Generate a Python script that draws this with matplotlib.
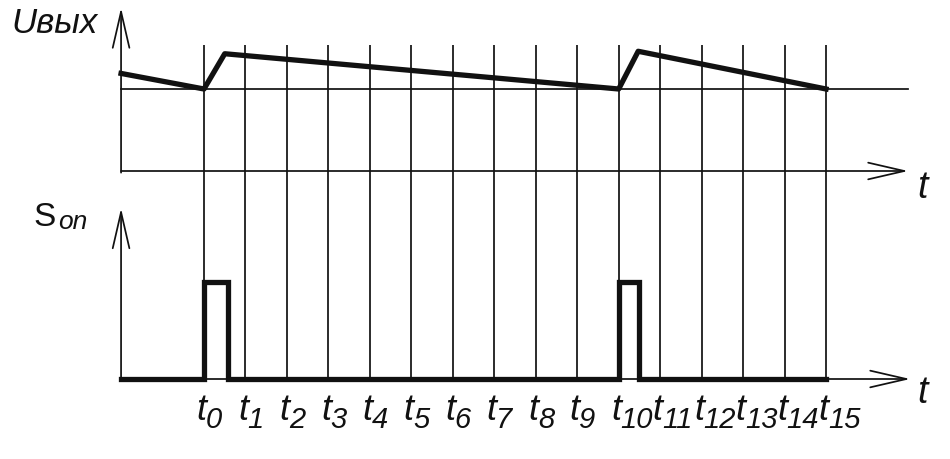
import matplotlib
matplotlib.use("Agg")
import matplotlib.pyplot as plt

plt.rcParams['font.family'] = ['Liberation Sans', 'DejaVu Sans']
plt.rcParams['mathtext.fontset'] = 'custom'
plt.rcParams['mathtext.rm'] = 'Liberation Sans'
plt.rcParams['mathtext.it'] = 'Liberation Sans:italic'
plt.rcParams['mathtext.sf'] = 'Liberation Sans'

# ---------------- data ----------------
t_marks = list(range(16))                       # t0 .. t15
t_subscripts = [str(k) for k in t_marks]
t_axis_start = -2.0                              # time where the axes start
t_axis_end = 16.98                               # arrow tip of time axes

# output voltage (relative units, reference level = 1)
u_time = [-2.0, 0.0, 0.5, 10.0, 10.47, 15.0]
u_vals = [1.19, 1.0, 1.43, 1.0, 1.46, 1.0]
u_ref = 1.0
u_arrow_top = 1.99
u_grid_top = 1.54

# switch-on signal
s_time = [-2.0, 0.0, 0.0, 0.58, 0.58, 10.0, 10.0, 10.48, 10.48, 15.0]
s_vals = [0, 0, 1, 1, 0, 0, 1, 1, 0, 0]
s_arrow_top = 1.76

# ---------------- layout ----------------
W, H = 950, 459
PX_T = 41.47          # pixels per time unit
X0 = 204              # pixel x of t0
fig = plt.figure(figsize=(W / 100, H / 100), dpi=100)
fig.patch.set_facecolor('white')

split = 200  # pixel row separating the two panels
ax_u = fig.add_axes([0, 1 - split / H, 1, split / H])
ax_s = fig.add_axes([0, 0, 1, 1 - split / H])
xlim = (-X0 / PX_T, (W - X0) / PX_T)

U0, UPX = 171, 82
ax_u.set_xlim(*xlim)
ax_u.set_ylim((U0 - split) / UPX, U0 / UPX)
S0, SPX = 379, 97
ax_s.set_xlim(*xlim)
ax_s.set_ylim((S0 - H) / SPX, (S0 - split) / SPX)

for ax in (ax_u, ax_s):
    ax.set_axis_off()

thin = 1.25
thick = 3.8
col = '#111111'
narrow = ['Liberation Sans Narrow', 'Liberation Sans', 'DejaVu Sans']

arrow_style = '->,head_length=2.6,head_width=0.6'

def axis_arrow(ax, start, tip):
    ax.annotate('', xy=tip, xytext=start,
                arrowprops=dict(arrowstyle=arrow_style, lw=thin, color=col,
                                shrinkA=0, shrinkB=0))

# grid of time marks
ax_u.vlines(t_marks, (U0 - split - 10) / UPX, u_grid_top, color=col, lw=thin)
ax_s.vlines(t_marks, 0, (S0 - split + 10) / SPX, color=col, lw=thin)

# top axes
axis_arrow(ax_u, (t_axis_start, -0.02), (t_axis_start, u_arrow_top))
axis_arrow(ax_u, (t_axis_start, 0), (t_axis_end, 0))
ax_u.plot([t_axis_start, t_axis_end], [u_ref, u_ref], color=col, lw=thin)
ax_u.plot(u_time, u_vals, color=col, lw=thick, solid_joinstyle='round')

# bottom axes
axis_arrow(ax_s, (t_axis_start, 0), (t_axis_start, s_arrow_top))
axis_arrow(ax_s, (t_axis_start, 0), (t_axis_end + 0.05, 0))
ax_s.plot(s_time, s_vals, color=col, lw=thick, solid_joinstyle='miter')

# texts
ax_u.text((11 - X0) / PX_T, (U0 - 33) / UPX, 'Uвых', fontsize=25,
          fontstyle='italic', ha='left', va='baseline', color=col,
          family=narrow[1:])
ax_u.text((922 - X0) / PX_T, (U0 - 198) / UPX, 't', fontsize=27,
          fontstyle='italic', ha='center', va='baseline', color=col,
          family=narrow)
ax_s.text((33 - X0) / PX_T, (S0 - 226) / SPX, 'S', fontsize=24,
          ha='left', va='baseline', color=col)
ax_s.text((58 - X0) / PX_T, (S0 - 229) / SPX, 'on', fontsize=19,
          fontstyle='italic', ha='left', va='baseline', color=col)
ax_s.text((922 - X0) / PX_T, (S0 - 403) / SPX, 't', fontsize=27,
          fontstyle='italic', ha='center', va='baseline', color=col,
          family=narrow)
for tk, sub in zip(t_marks, t_subscripts):
    ax_s.annotate('t', xy=(tk, (S0 - 420) / SPX), xytext=(2.5, 0),
                  textcoords='offset pixels', fontsize=26, fontstyle='italic',
                  ha='right', va='baseline', color=col, family=narrow)
    ax_s.annotate(sub, xy=(tk, (S0 - 428) / SPX), xytext=(2.0, 0),
                  textcoords='offset pixels', fontsize=21, fontstyle='italic',
                  ha='left', va='baseline', color=col, family=narrow)

fig.savefig('out.png', dpi=100, facecolor='white')
